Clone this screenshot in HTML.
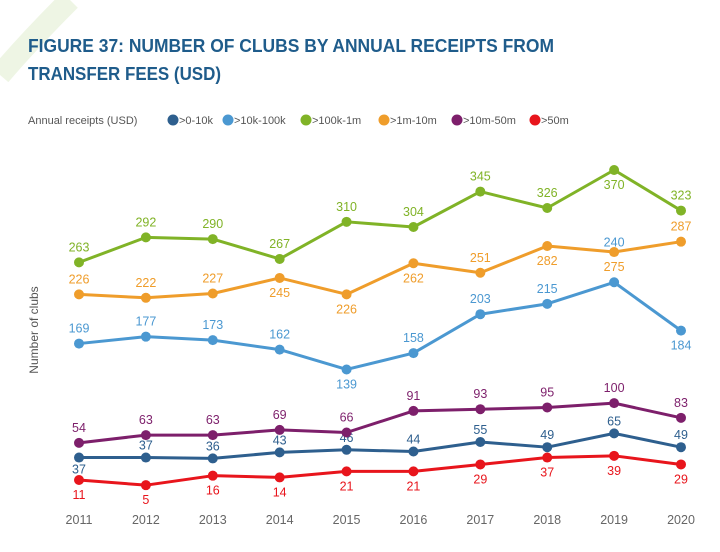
<!DOCTYPE html>
<html><head><meta charset="utf-8"><style>
body{margin:0;background:#fff;}
svg{display:block;font-family:"Liberation Sans",sans-serif;}
</style></head><body>
<svg width="720" height="552" viewBox="0 0 720 552">
<path d="M70 0 Q 30 40 0 75" stroke="#eef5e4" stroke-width="22" fill="none"/>
<text x="28" y="52" font-size="18" font-weight="bold" fill="#1f5c8b" textLength="526" lengthAdjust="spacingAndGlyphs">FIGURE 37: NUMBER OF CLUBS BY ANNUAL RECEIPTS FROM</text>
<text x="28" y="80" font-size="18" font-weight="bold" fill="#1f5c8b" textLength="193" lengthAdjust="spacingAndGlyphs">TRANSFER FEES (USD)</text>
<g id="legend"></g>
<text transform="translate(38,330) rotate(-90)" text-anchor="middle" font-size="12" fill="#555">Number of clubs</text>
<g id="plot"></g>
</svg>
<script>
const years = ["2011","2012","2013","2014","2015","2016","2017","2018","2019","2020"];
const seriesNames = [">0-10k",">10k-100k",">100k-1m",">1m-10m",">10m-50m",">50m"];
const s0_10k = [37,37,36,43,46,44,55,49,65,49];
const s10k_100k = [169,177,173,162,139,158,203,215,240,184];
const s100k_1m = [263,292,290,267,310,304,345,326,370,323];
const s1m_10m = [226,222,227,245,226,262,251,282,275,287];
const s10m_50m = [54,63,63,69,66,91,93,95,100,83];
const s50m = [11,5,16,14,21,21,29,37,39,29];
const allSeries = [s0_10k,s10k_100k,s100k_1m,s1m_10m,s10m_50m,s50m];
const colors = ["#2e5f8e","#4b98d1","#80b327","#ef9d2b","#7d1f6b","#e8151c"];
// label baseline offsets (style, px)
const A=-11,B=19,D=-8;
const labelDy = [
 [16,D,D,D,D,D,D,D,D,D],
 [A,A,A,A,B,A,A,A,-36,B],
 [A,A,A,A,A,A,A,A,B,A],
 [A,A,A,B,B,B,A,B,B,A],
 [A,A,A,A,A,A,A,A,A,A],
 [B,B,B,B,B,B,B,B,B,B]
];
const NS="http://www.w3.org/2000/svg";
const xS = i => 79 + i*(681-79)/(years.length-1);
const yS = v => 489.5 - v*0.8635;
const plot=document.getElementById('plot');
function mk(tag,attrs,parent){const e=document.createElementNS(NS,tag);for(const k in attrs)e.setAttribute(k,attrs[k]);parent.appendChild(e);return e;}
const lg=document.getElementById('legend');
const lt=mk('text',{x:28,y:124,'font-size':11,fill:'#555'},lg);lt.textContent="Annual receipts (USD)";


const legX=[167,222,300,378,451,529];
seriesNames.forEach((n,k)=>{
  const g=mk('g',{},lg);
  
  
  mk('circle',{cx:legX[k]+6,cy:120,r:5.5,fill:colors[k]},g);
  const t=mk('text',{x:legX[k]+12,y:124,'font-size':11,fill:'#555'},g);t.textContent=n;
});
years.forEach((y,i)=>{
  const t=mk('text',{x:xS(i),y:524,'text-anchor':'middle','font-size':12.5,fill:'#666'},plot);
  t.textContent=y;
  
  
});
allSeries.forEach((vals,k)=>{
  const g=mk('g',{},plot);
  
  
  const pts=vals.map((v,i)=>xS(i)+','+yS(v)).join(' ');
  mk('polyline',{points:pts,fill:'none',stroke:colors[k],'stroke-width':3,'stroke-linejoin':'round'},g);
  vals.forEach((v,i)=>{
    const c=mk('circle',{cx:xS(i),cy:yS(v),r:5,fill:colors[k]},g);
    
    
    const t=mk('text',{x:xS(i),y:yS(v)+labelDy[k][i],'text-anchor':'middle','font-size':12.5,fill:colors[k]},g);
    t.textContent=v;
    
    
  });
});
</script>
</body></html>
